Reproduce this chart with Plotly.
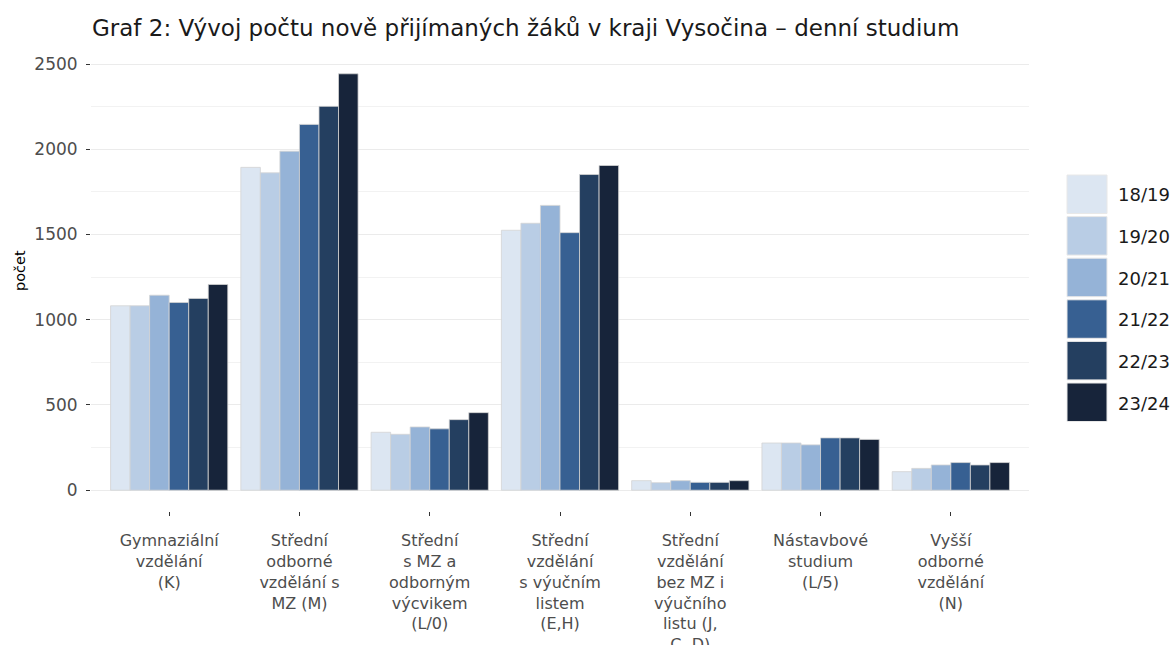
import plotly.graph_objects as go

categories = [
    "Gymnaziální<br>vzdělání<br>(K)",
    "Střední<br>odborné<br>vzdělání s<br>MZ (M)",
    "Střední<br>s MZ a<br>odborným<br>výcvikem<br>(L/0)",
    "Střední<br>vzdělání<br>s výučním<br>listem<br>(E,H)",
    "Střední<br>vzdělání<br>bez MZ i<br>výučního<br>listu (J,<br>C, D)",
    "Nástavbové<br>studium<br>(L/5)",
    "Vyšší<br>odborné<br>vzdělání<br>(N)",
]
years = ["18/19", "19/20", "20/21", "21/22", "22/23", "23/24"]
colors = ["#dce6f2", "#b9cde5", "#95b3d7", "#376092", "#243f60", "#17243a"]

v1819 = [1082, 1894, 340, 1525, 56, 277, 109]
v1920 = [1082, 1862, 328, 1566, 44, 277, 128]
v2021 = [1144, 1989, 371, 1671, 56, 266, 148]
v2122 = [1101, 2146, 360, 1511, 46, 307, 162]
v2223 = [1125, 2252, 414, 1852, 46, 307, 148]
v2324 = [1207, 2443, 455, 1905, 56, 298, 162]
series = [v1819, v1920, v2021, v2122, v2223, v2324]

W, H = 1176, 645
L, R, T, B = 91, 147, 53, 134
PW, PH = W - L - R, H - T - B

def px2x(px):
    return (px - L) / PW

def py2y(py):
    return (H - B - py) / PH

FONT = "DejaVu Sans"

fig = go.Figure()
for yr, col, vals in zip(years, colors, series):
    fig.add_trace(go.Bar(
        x=categories, y=vals, name=yr,
        marker=dict(color=col, line=dict(color="#d4d4d4", width=0.8)),
        showlegend=False,
    ))

# custom legend (large keys like ggplot)
shapes = []
annotations = []
for i, (yr, col) in enumerate(zip(years, colors)):
    top = 175 + i * 41.6
    shapes.append(dict(type="rect", xref="paper", yref="paper",
                       x0=px2x(1067), x1=px2x(1107),
                       y0=py2y(top + 38.5), y1=py2y(top),
                       fillcolor=col, line=dict(color="#e8e8e8", width=1)))
    annotations.append(dict(xref="paper", yref="paper", x=px2x(1116), y=py2y(top + 20),
                            text=yr, showarrow=False, xanchor="left", yanchor="middle",
                            font=dict(family=FONT, size=18, color="#1a1a1a")))

annotations.append(dict(xref="paper", yref="paper", x=px2x(20), y=py2y(271),
                        text="počet", textangle=-90, showarrow=False,
                        xanchor="center", yanchor="middle",
                        font=dict(family=FONT, size=14.5, color="#000000")))

fig.update_layout(
    width=W, height=H,
    margin=dict(l=L, r=R, t=T, b=B, autoexpand=False),
    plot_bgcolor="white", paper_bgcolor="white",
    barmode="group", bargap=0.1, bargroupgap=0.0,
    title=dict(text="Graf 2: Vývoj počtu nově přijímaných žáků v kraji Vysočina – denní studium",
               xref="container", yref="container", x=92 / W, y=1 - 28 / H,
               xanchor="left", yanchor="middle",
               font=dict(family=FONT, size=23, color="#1a1a1a")),
    shapes=shapes,
    annotations=annotations,
)
fig.update_xaxes(
    range=[-0.6, 6.6], showgrid=False, zeroline=False, showline=False,
    ticks="outside", ticklen=4, tickcolor="#333333", tickwidth=1,
    tickfont=dict(family=FONT, size=16, color="#4d4d4d"),
    ticklabelstandoff=11, automargin=False,
)
fig.update_yaxes(
    range=[-122, 2565], tickvals=[0, 500, 1000, 1500, 2000, 2500],
    showgrid=True, gridcolor="#ebebeb", gridwidth=1.1,
    minor=dict(tickvals=[250, 750, 1250, 1750, 2250], showgrid=True,
               gridcolor="#f2f2f2", gridwidth=0.8, ticks=""),
    zeroline=False, showline=False,
    ticks="outside", ticklen=4, tickcolor="#333333", tickwidth=1,
    tickfont=dict(family=FONT, size=17, color="#4d4d4d"),
    ticklabelstandoff=5, automargin=False,
)

fig.write_html("out.html", config={"displayModeBar": False},
               post_script="document.body.style.margin='0';document.body.style.overflow='hidden';")
